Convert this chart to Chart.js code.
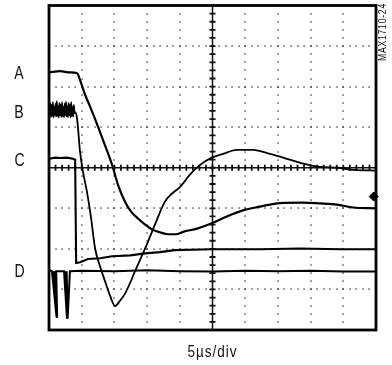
<!DOCTYPE html>
<html>
<head>
<meta charset="utf-8">
<script src="https://cdn.jsdelivr.net/npm/chart.js@4.4.1/dist/chart.umd.min.js"></script>
<style>
  html, body { margin: 0; padding: 0; background: #fff; }
  #wrap { position: relative; width: 392px; height: 365px; overflow: hidden; }
  #c { position: absolute; left: 0; top: 0; }
  .lbl { position: absolute; font-family: "Liberation Sans", Arial, sans-serif; color: #111; line-height: 1; white-space: nowrap; display: inline-block; }
  .ch { font-size: 18px; transform: scaleX(0.78); transform-origin: 50% 50%; }
  #xlab { font-size: 16.5px; letter-spacing: 1.2px; transform: scaleX(0.82); transform-origin: 50% 50%; }
  #code { font-size: 10px; letter-spacing: 0.9px; transform-origin: 0 0; transform: rotate(-90deg) scaleX(0.86); }
</style>
</head>
<body>
<div id="wrap">
  <canvas id="c" width="392" height="365"></canvas>
  <div class="lbl ch" id="lA">A</div>
  <div class="lbl ch" id="lB">B</div>
  <div class="lbl ch" id="lC">C</div>
  <div class="lbl ch" id="lD">D</div>
  <div class="lbl" id="xlab">5µs/div</div>
  <div class="lbl" id="code">MAX1710-24</div>
</div>
<script>
// Screen is 10 x 8 divisions; values are in divisions (x: 0..10, y: -4..4)
const channelNames = ["A", "B", "C", "D"];
const channelLevels = [2.35, 1.40, 0.22, -2.52];   // resting level of each trace (label height)
const xAxisLabel = "5µs/div";
const figureCode = "MAX1710-24";

const traceA = [
  [0,2.35],[0.34,2.38],[0.64,2.35],[0.86,2.33],[0.95,2.16],[1.10,1.81],[1.25,1.52],[1.41,1.20],
  [1.56,0.88],[1.71,0.56],[1.93,0.07],[2.11,-0.42],[2.32,-0.83],[2.51,-1.08],[2.72,-1.25],
  [2.94,-1.40],[3.15,-1.52],[3.39,-1.59],[3.64,-1.64],[3.88,-1.64],[4.10,-1.58],[4.53,-1.50],
  [4.98,-1.37],[5.44,-1.20],[5.93,-1.05],[6.45,-0.96],[7.06,-0.87],[7.77,-0.86],[8.29,-0.88],
  [8.81,-0.91],[9.30,-0.98],[10,-1.00]
];
const traceB = [
  [0,1.45],[0.02,1.3],[0.04,1.6],[0.06,1.25],[0.08,1.55],[0.1,1.28],[0.12,1.62],[0.14,1.24],
  [0.16,1.5],[0.18,1.3],[0.2,1.58],[0.22,1.26],[0.24,1.64],[0.26,1.28],[0.28,1.52],[0.3,1.24],
  [0.32,1.6],[0.34,1.3],[0.36,1.55],[0.38,1.25],[0.4,1.62],[0.42,1.27],[0.44,1.5],[0.46,1.24],
  [0.48,1.58],[0.5,1.3],[0.52,1.63],[0.54,1.26],[0.56,1.52],[0.58,1.25],[0.6,1.6],[0.62,1.3],
  [0.64,1.55],[0.66,1.24],[0.68,1.62],[0.7,1.28],[0.72,1.5],[0.74,1.26],[0.76,1.55],[0.78,1.35],
  [0.80,1.37],[0.86,1.20],[0.95,0.39],[1.04,-0.10],[1.16,-0.59],[1.28,-1.20],[1.41,-1.99],
  [1.56,-2.43],[1.71,-2.79],[1.87,-3.16],[2.02,-3.41],[2.17,-3.28],[2.32,-3.11],[2.48,-2.84],
  [2.63,-2.55],[2.94,-1.99],[3.24,-1.40],[3.55,-0.83],[3.76,-0.64],[4.01,-0.47],[4.31,-0.17],
  [4.62,0.07],[4.98,0.25],[5.32,0.34],[5.75,0.44],[6.24,0.44],[6.76,0.34],[7.28,0.22],
  [7.77,0.10],[8.29,0.02],[8.81,0.00],[9.30,-0.05],[10,-0.07]
];
const traceC = [
  [0,0.22],[0.20,0.25],[0.34,0.24],[0.55,0.25],[0.73,0.22],[0.80,0.20],[0.83,-2.35],[0.95,-2.33],
  [1.19,-2.25],[1.56,-2.23],[1.93,-2.18],[2.48,-2.16],[2.94,-2.11],[3.39,-2.08],[3.85,-2.03],
  [4.98,-2.01],[6.45,-2.01],[7.68,-1.99],[8.90,-2.01],[10,-2.01]
];
const traceD = [
  [0,-2.52],[0.09,-2.55],[0.23,-3.68],[0.13,-2.55],[0.24,-3.70],[0.18,-2.55],[0.25,-3.70],
  [0.22,-2.55],[0.33,-2.55],
  [0.46,-2.55],[0.55,-3.72],[0.50,-2.55],[0.56,-3.72],[0.54,-2.55],[0.57,-3.72],[0.64,-2.55],
  [1.0,-2.54],[2.0,-2.55],[3.0,-2.53],[4.0,-2.55],
  [5.0,-2.56],[6.0,-2.54],[7.0,-2.55],[8.0,-2.54],[9.0,-2.56],[10,-2.56]
];
const markerRef = [[9.93,-0.71]];

const toPts = arr => arr.map(p => ({x: p[0], y: p[1]}));

const scopeGrid = {
  id: 'scopeGrid',
  beforeDatasetsDraw(chart) {
    const {ctx, chartArea: a, scales: {x, y}} = chart;
    ctx.save();
    ctx.fillStyle = '#222';
    for (let i = 1; i < 10; i++) {
      if (i === 5) continue;
      const px = x.getPixelForValue(i);
      for (let k = 1; k < 40; k++) {
        const py = y.getPixelForValue(-4 + k * 0.2);
        ctx.fillRect(Math.round(px) - 0.6, Math.round(py) - 0.6, 1.3, 1.3);
      }
    }
    for (let j = -3; j <= 3; j++) {
      if (j === 0) continue;
      const py = y.getPixelForValue(j);
      for (let k = 1; k < 50; k++) {
        const px = x.getPixelForValue(k * 0.2);
        ctx.fillRect(Math.round(px) - 0.6, Math.round(py) - 0.6, 1.3, 1.3);
      }
    }
    ctx.strokeStyle = '#111';
    ctx.lineWidth = 1.5;
    const cx = x.getPixelForValue(5), cy = y.getPixelForValue(0);
    ctx.beginPath();
    ctx.moveTo(a.left, cy); ctx.lineTo(a.right, cy);
    ctx.moveTo(cx, a.top); ctx.lineTo(cx, a.bottom);
    ctx.stroke();
    ctx.lineWidth = 1.8;
    ctx.beginPath();
    for (let k = 1; k < 50; k++) {
      const px = x.getPixelForValue(k * 0.2);
      ctx.moveTo(px, cy - 3); ctx.lineTo(px, cy + 3);
    }
    for (let k = 1; k < 40; k++) {
      const py = y.getPixelForValue(-4 + k * 0.2);
      ctx.moveTo(cx - 3, py); ctx.lineTo(cx + 3, py);
    }
    ctx.stroke();
    ctx.restore();
  },
  afterDatasetsDraw(chart) {
    const {ctx, chartArea: a} = chart;
    ctx.save();
    ctx.strokeStyle = '#000';
    ctx.lineWidth = 2.8;
    ctx.strokeRect(a.left, a.top, a.right - a.left, a.bottom - a.top);
    ctx.restore();
  }
};

const lineDs = (data, w, mono) => ({
  data: toPts(data), showLine: true, borderColor: '#000', borderWidth: w,
  pointRadius: 0, fill: false,
  tension: mono ? 0.4 : 0, cubicInterpolationMode: mono ? 'monotone' : 'default'
});

const chart = new Chart(document.getElementById('c'), {
  type: 'scatter',
  data: {
    datasets: [
      lineDs(traceA, 2.2, true),
      lineDs(traceB, 1.8, true),
      lineDs(traceC, 2.1, false),
      lineDs(traceD, 2.0, false),
      { data: toPts(markerRef), pointStyle: 'rectRot', pointRadius: 4.5,
        backgroundColor: '#000', borderColor: '#000', showLine: false, clip: false }
    ]
  },
  options: {
    responsive: false, animation: false, devicePixelRatio: 1,
    layout: { padding: { left: 49, right: 16, top: 4, bottom: 35 } },
    plugins: { legend: { display: false }, tooltip: { enabled: false } },
    scales: {
      x: { type: 'linear', min: 0, max: 10, display: false },
      y: { type: 'linear', min: -4, max: 4, display: false }
    }
  },
  plugins: [scopeGrid]
});

const ys = chart.scales.y;
['lA', 'lB', 'lC', 'lD'].forEach((id, i) => {
  const el = document.getElementById(id);
  el.textContent = channelNames[i];
  const py = ys.getPixelForValue(channelLevels[i]);
  el.style.left = (19 - el.offsetWidth / 2) + 'px';
  el.style.top = (py - el.offsetHeight / 2 + 1) + 'px';
});
const xl = document.getElementById('xlab');
xl.textContent = xAxisLabel;
xl.style.left = (212 - xl.offsetWidth / 2) + 'px';
xl.style.top = '343px';
const cd = document.getElementById('code');
cd.textContent = figureCode;
cd.style.left = '378px';
cd.style.top = (3 + cd.offsetWidth * 0.86) + 'px';
</script>
</body>
</html>
